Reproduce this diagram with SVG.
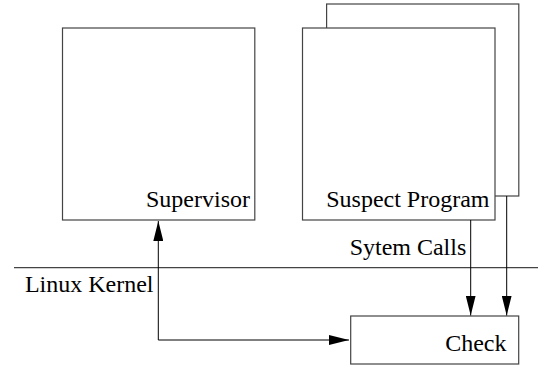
<svg xmlns="http://www.w3.org/2000/svg" width="538" height="368" viewBox="0 0 538 368">
<style>
.box{fill:#fff;stroke:#444;stroke-width:1.2}
.ln{fill:none;stroke:#000;stroke-width:1}
.t{font-family:'Liberation Serif',serif;font-size:24px;fill:#000}
</style>
<defs>
<marker id="ah" viewBox="0 0 20 10" refX="20" refY="5" markerWidth="20" markerHeight="10" markerUnits="userSpaceOnUse" orient="auto">
<path d="M0,0 L20,5 L0,10 Z" fill="#000"/>
</marker>
</defs>
<line x1="14" y1="267.7" x2="538" y2="267.7" stroke="#444" stroke-width="1.2"/>
<text class="t" font-family="Liberation Serif, serif" x="153.5" y="291.5" text-anchor="end">Linux Kernel</text>
<g id="supervisor">
<rect class="box" x="62.5" y="28" width="192.3" height="192"/>
<text class="t" font-family="Liberation Serif, serif" x="250" y="207" text-anchor="end">Supervisor</text>
</g>
<g id="suspect">
<rect class="box" x="326.6" y="4" width="192.2" height="192"/>
<rect class="box" x="302.5" y="28" width="192.5" height="192"/>
<text class="t" font-family="Liberation Serif, serif" x="489.5" y="207" text-anchor="end">Suspect Program</text>
</g>
<g id="check">
<rect class="box" x="350.7" y="316" width="168" height="48"/>
<text class="t" font-family="Liberation Serif, serif" x="506.5" y="350.5" text-anchor="end">Check</text>
</g>
<g id="connectors">
<path class="ln" d="M158.3,340 L158.3,221" marker-end="url(#ah)"/>
<path class="ln" d="M158.3,340 L349,340" marker-end="url(#ah)"/>
<path class="ln" d="M470.7,220 L470.7,315.5" marker-end="url(#ah)"/>
<path class="ln" d="M506.7,196 L506.7,315.5" marker-end="url(#ah)"/>
<text class="t" font-family="Liberation Serif, serif" x="466.3" y="255" text-anchor="end">Sytem Calls</text>
</g>
</svg>
